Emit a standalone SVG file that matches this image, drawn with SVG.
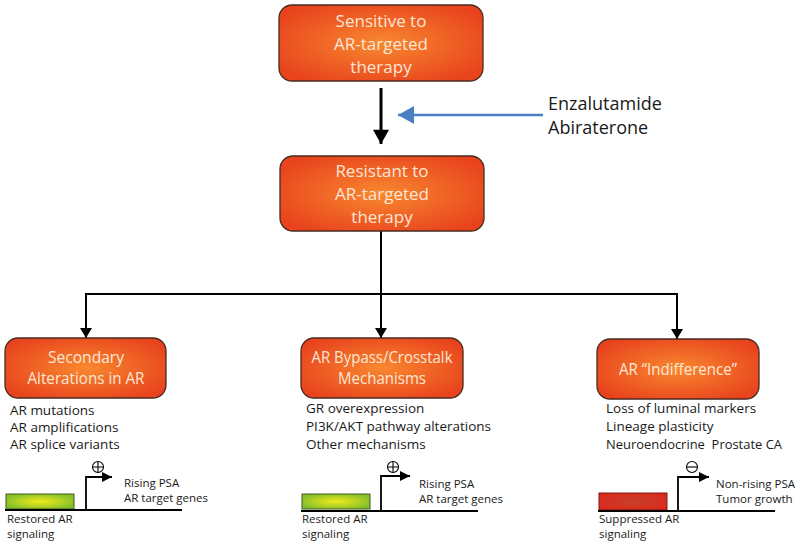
<svg xmlns="http://www.w3.org/2000/svg" width="800" height="546" viewBox="0 0 800 546">
<defs>
<radialGradient id="og" cx="0.5" cy="0.5" r="0.6">
<stop offset="0" stop-color="#f8882f"/>
<stop offset="1" stop-color="#e8431d"/>
</radialGradient>
<radialGradient id="gg" cx="0.5" cy="0.5" r="0.55">
<stop offset="0" stop-color="#f0ea1c"/>
<stop offset="1" stop-color="#86bf2a"/>
</radialGradient>
<radialGradient id="rg" cx="0.5" cy="0.5" r="0.6">
<stop offset="0" stop-color="#c8402a"/>
<stop offset="1" stop-color="#da2a1e"/>
</radialGradient>
<marker id="bigHead" markerUnits="userSpaceOnUse" markerWidth="20" markerHeight="16" refX="16" refY="9" orient="auto" viewBox="0 0 16 18">
<polygon points="0,0 16,9 0,18" fill="#000"/>
</marker>
<marker id="midHead" markerUnits="userSpaceOnUse" markerWidth="12" markerHeight="12" refX="10" refY="6" orient="auto" viewBox="0 0 10 12">
<polygon points="0,0 10,6 0,12" fill="#000"/>
</marker>
<marker id="blueHead" markerUnits="userSpaceOnUse" markerWidth="16" markerHeight="18" refX="16" refY="9" orient="auto" viewBox="0 0 16 18">
<polygon points="0,0 16,9 0,18" fill="#4a7fc4"/>
</marker>
<marker id="smallHead" markerUnits="userSpaceOnUse" markerWidth="10" markerHeight="10" refX="10" refY="5" orient="auto" viewBox="0 0 10 10">
<polygon points="0,0 10,5 0,10" fill="#000"/>
</marker>
</defs>
<style>
.box{fill:url(#og);stroke:#4a2b20;stroke-width:1.3}
.bt{font-family:"Open Sans","Liberation Sans",sans-serif;font-size:17px;fill:#fde6d6;text-anchor:middle}
.lt{font-family:"Open Sans","Liberation Sans",sans-serif;font-size:13.5px;fill:#1a1a1a}
.st{font-family:"Open Sans","Liberation Sans",sans-serif;font-size:11.5px;fill:#1a1a1a}
.dt{font-family:"Open Sans","Liberation Sans",sans-serif;font-size:18px;fill:#1a1a1a}
.ln{fill:none;stroke:#000;stroke-width:2}
.gl{fill:none;stroke:#000;stroke-width:1.8}
.sym{fill:none;stroke:#000;stroke-width:1.1}
</style>
<rect width="800" height="546" fill="#fff"/>

<g id="connectors">
<line x1="381" y1="88" x2="381" y2="144" stroke="#000" stroke-width="3" marker-end="url(#bigHead)"/>
<line x1="543" y1="115" x2="398" y2="115" stroke="#4a7fc4" stroke-width="2.5" marker-end="url(#blueHead)"/>
<line class="ln" x1="381" y1="231" x2="381" y2="294"/>
<line class="ln" x1="85" y1="294" x2="677" y2="294"/>
<line class="ln" x1="86" y1="293" x2="86" y2="338" marker-end="url(#midHead)"/>
<line class="ln" x1="381" y1="293" x2="381" y2="338" marker-end="url(#midHead)"/>
<line class="ln" x1="677" y1="293" x2="677" y2="339" marker-end="url(#midHead)"/>
</g>

<g id="sensitive">
<rect class="box" x="279" y="5" width="204" height="76" rx="13"/>
<text class="bt" x="381" y="27">Sensitive to</text>
<text class="bt" x="381" y="50">AR-targeted</text>
<text class="bt" x="381" y="73">therapy</text>
</g>

<g id="drugs">
<text class="dt" x="548" y="110">Enzalutamide</text>
<text class="dt" x="548" y="134">Abiraterone</text>
</g>

<g id="resistant">
<rect class="box" x="280" y="156" width="204" height="75" rx="13"/>
<text class="bt" x="382" y="177">Resistant to</text>
<text class="bt" x="382" y="200">AR-targeted</text>
<text class="bt" x="382" y="223">therapy</text>
</g>

<g id="secondary">
<rect class="box" x="5" y="338" width="161" height="60" rx="13"/>
<text class="bt" x="86" y="363" textLength="76" lengthAdjust="spacingAndGlyphs">Secondary</text>
<text class="bt" x="86" y="384" textLength="117" lengthAdjust="spacingAndGlyphs">Alterations in AR</text>
<text class="lt" x="10" y="415">AR mutations</text>
<text class="lt" x="10" y="432">AR amplifications</text>
<text class="lt" x="10" y="449">AR splice variants</text>
<rect x="6" y="494" width="68" height="15" fill="url(#gg)" stroke="#3f5a1a" stroke-width="1"/>
<line class="gl" x1="5" y1="510" x2="182" y2="510"/>
<polyline class="gl" points="86,510 86,477 112,477" marker-end="url(#smallHead)"/>
<circle class="sym" cx="98" cy="467" r="5.5"/>
<path class="sym" d="M92.5,467 H103.5 M98,461.5 V472.5"/>
<text class="st" x="124" y="487">Rising PSA</text>
<text class="st" x="124" y="502">AR target genes</text>
<text class="st" x="7" y="523">Restored AR</text>
<text class="st" x="7" y="538">signaling</text>
</g>

<g id="bypass">
<rect class="box" x="301" y="338" width="162" height="60" rx="13"/>
<text class="bt" x="382" y="363" textLength="141" lengthAdjust="spacingAndGlyphs">AR Bypass/Crosstalk</text>
<text class="bt" x="382" y="384" textLength="88" lengthAdjust="spacingAndGlyphs">Mechanisms</text>
<text class="lt" x="306" y="413">GR overexpression</text>
<text class="lt" x="306" y="431">PI3K/AKT pathway alterations</text>
<text class="lt" x="306" y="449">Other mechanisms</text>
<rect x="302" y="494" width="68" height="15" fill="url(#gg)" stroke="#3f5a1a" stroke-width="1"/>
<line class="gl" x1="301" y1="511" x2="478" y2="511"/>
<polyline class="gl" points="381,511 381,476 410,476" marker-end="url(#smallHead)"/>
<circle class="sym" cx="393" cy="467" r="5.5"/>
<path class="sym" d="M387.5,467 H398.5 M393,461.5 V472.5"/>
<text class="st" x="419" y="488">Rising PSA</text>
<text class="st" x="419" y="503">AR target genes</text>
<text class="st" x="302" y="523">Restored AR</text>
<text class="st" x="302" y="538">signaling</text>
</g>

<g id="indifference">
<rect class="box" x="597" y="339" width="162" height="60" rx="13"/>
<text class="bt" x="678" y="375" textLength="118" lengthAdjust="spacingAndGlyphs">AR “Indifference”</text>
<text class="lt" x="606" y="413">Loss of luminal markers</text>
<text class="lt" x="606" y="431">Lineage plasticity</text>
<text class="lt" x="606" y="449" xml:space="preserve" textLength="176" lengthAdjust="spacingAndGlyphs">Neuroendocrine  Prostate CA</text>
<rect x="599" y="493" width="68" height="17" fill="url(#rg)" stroke="#7a1a12" stroke-width="1"/>
<line class="gl" x1="598" y1="511" x2="775" y2="511"/>
<polyline class="gl" points="678,511 678,477 709,477" marker-end="url(#smallHead)"/>
<circle class="sym" cx="692" cy="467" r="5.5"/>
<path class="sym" d="M686.5,467 H697.5"/>
<text class="st" x="716" y="488">Non-rising PSA</text>
<text class="st" x="716" y="503">Tumor growth</text>
<text class="st" x="599" y="523">Suppressed AR</text>
<text class="st" x="599" y="538">signaling</text>
</g>
</svg>
